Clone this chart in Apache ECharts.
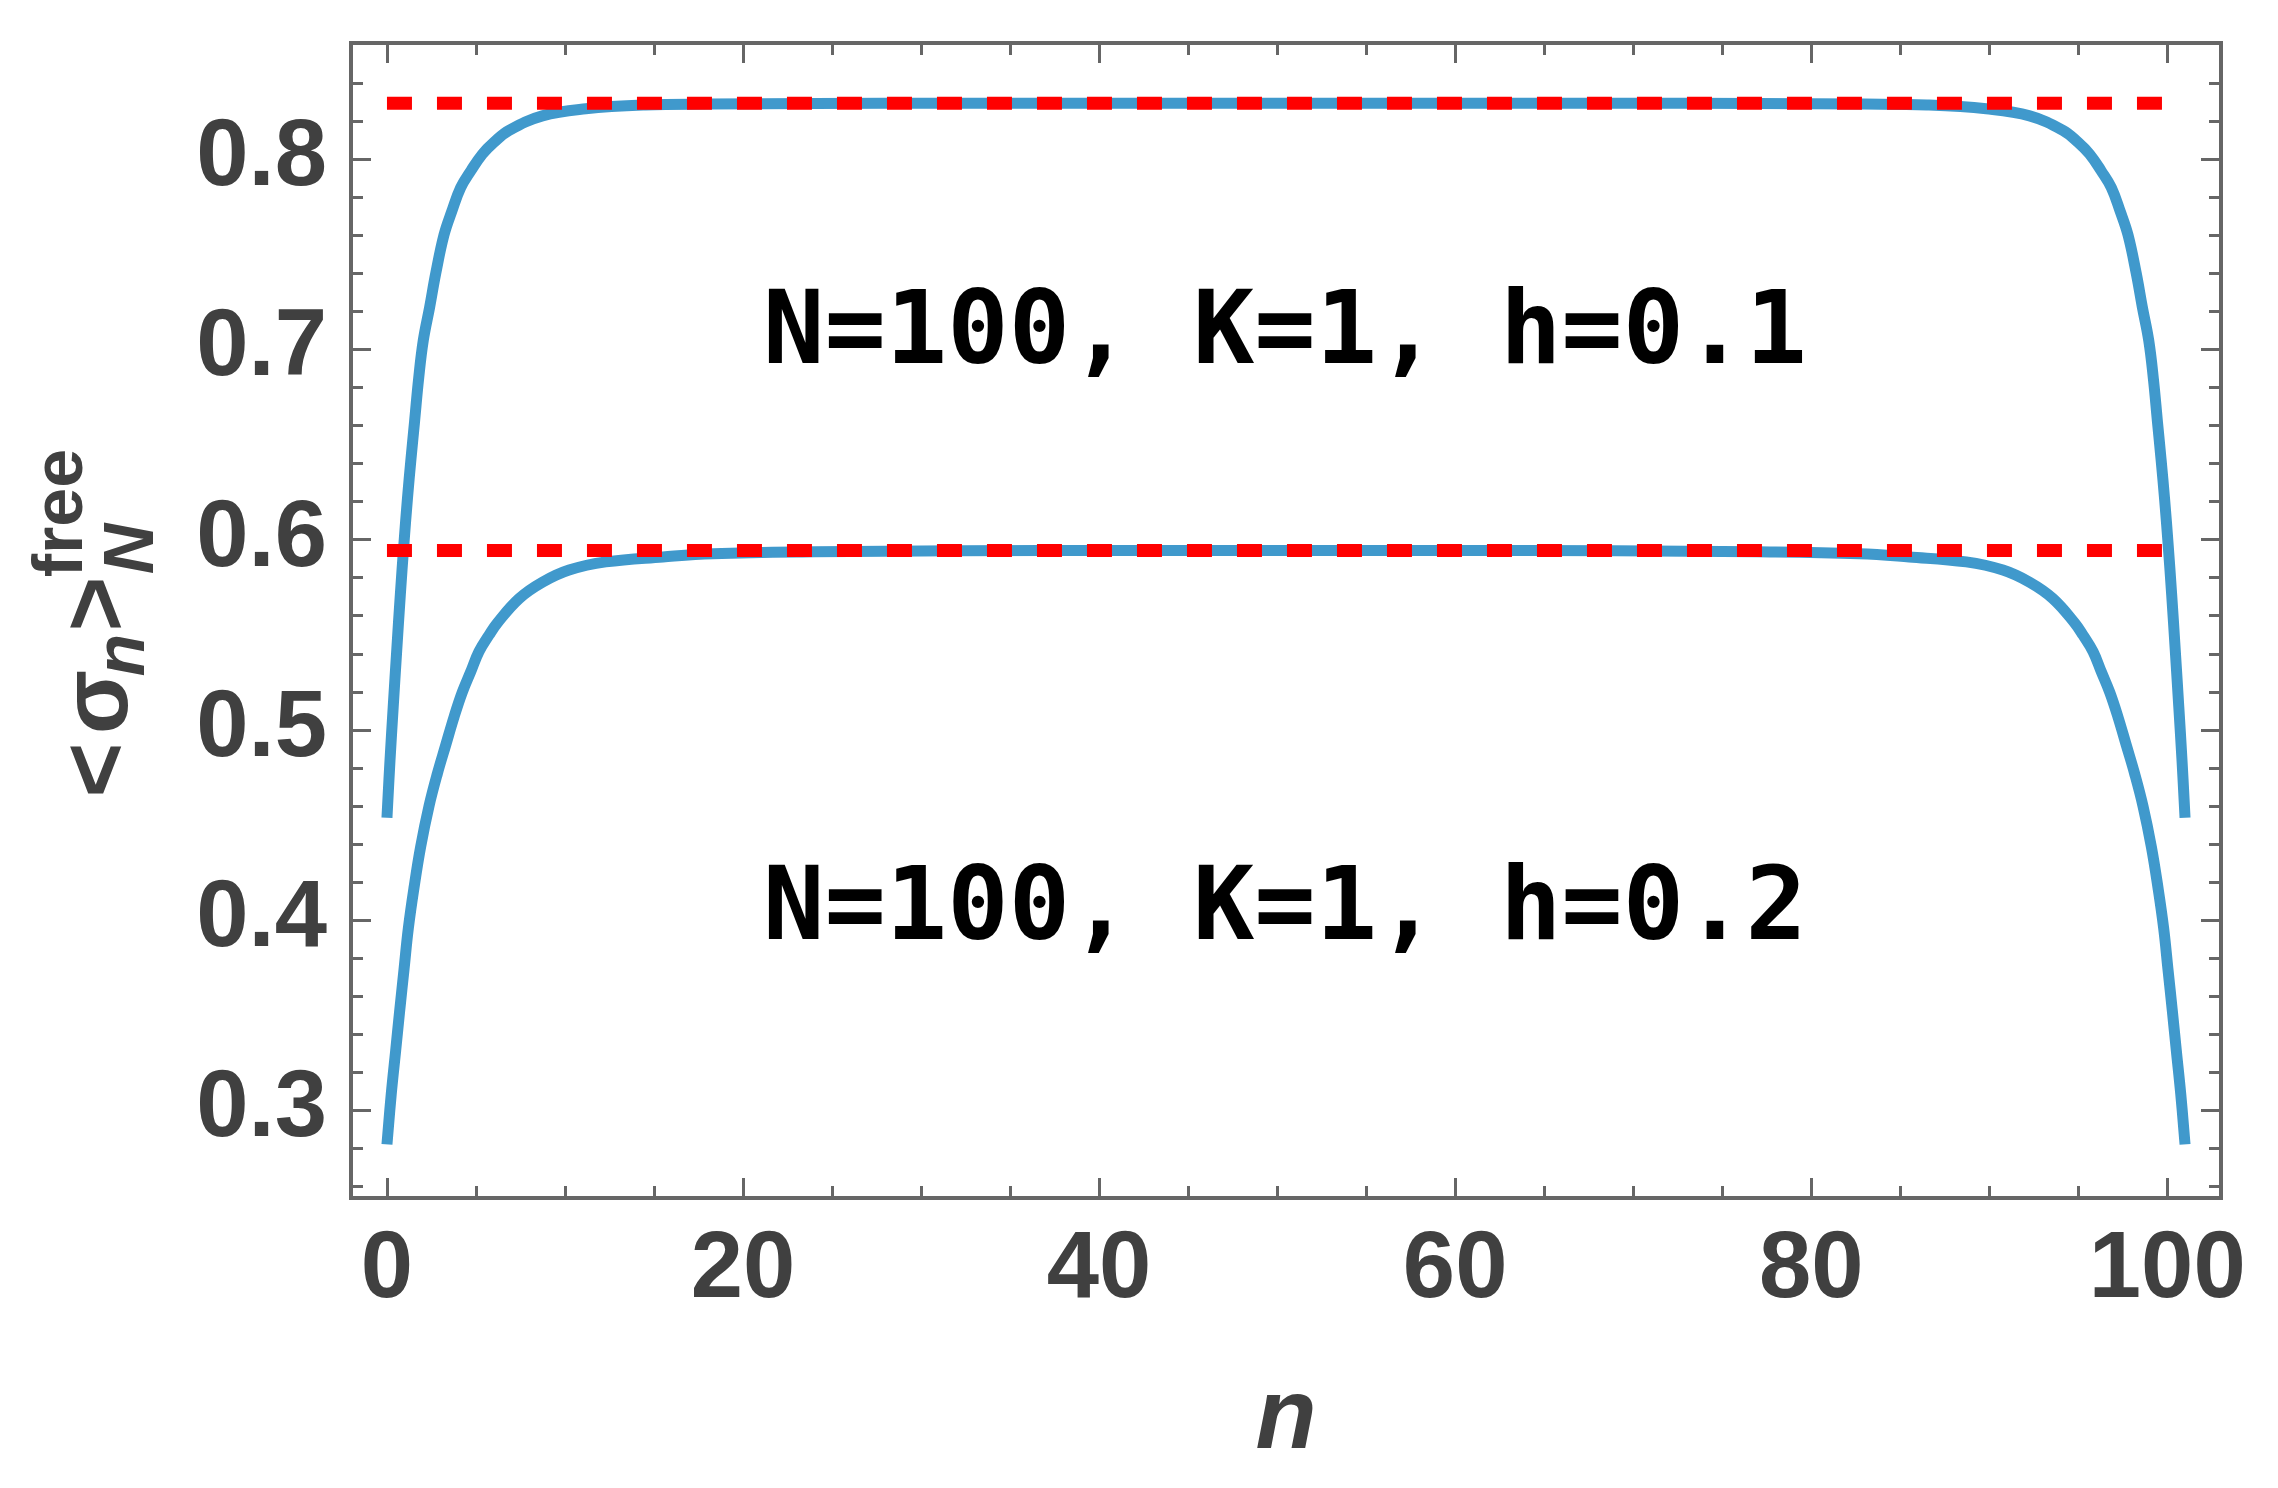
<!DOCTYPE html>
<html>
<head>
<meta charset="utf-8">
<script src="https://cdn.jsdelivr.net/npm/echarts@6/dist/echarts.min.js"></script>
<style>
  html, body { margin: 0; padding: 0; background: #fff; }
  #chart { width: 2278px; height: 1488px; }
</style>
</head>
<body>
<div id="chart"></div>
<script>
// h = 0.1 curve
var nUpper = [0, 0.17, 0.35, 0.55, 0.75, 0.95, 1.15, 1.35, 1.55, 1.78, 2.04, 2.4, 2.74, 3.2, 3.64, 4.14, 4.71, 5.36, 6.02, 6.86, 8.73, 11.17, 14.5, 18, 24, 32, 42, 50.5,
  59, 69, 77, 83, 86.5, 89.83, 92.27, 94.14, 94.98, 95.64, 96.29, 96.86, 97.36, 97.8, 98.26, 98.6, 98.96, 99.22, 99.45, 99.65, 99.85, 100.05, 100.25, 100.45, 100.65, 100.83, 101];
var sigmaUpper = [0.4538, 0.4839, 0.512, 0.542, 0.571, 0.5975, 0.6215, 0.6425, 0.662, 0.6847, 0.7047, 0.7223, 0.7399, 0.760, 0.7725, 0.785, 0.7938, 0.8026, 0.8089, 0.8151, 0.8227, 0.8264, 0.8284, 0.8289, 0.8292, 0.8293, 0.8293, 0.8293,
  0.8293, 0.8293, 0.8292, 0.8289, 0.8284, 0.8264, 0.8227, 0.8151, 0.8089, 0.8026, 0.7938, 0.785, 0.7725, 0.760, 0.7399, 0.7223, 0.7047, 0.6847, 0.662, 0.6425, 0.6215, 0.5975, 0.571, 0.542, 0.512, 0.4839, 0.4538];
// h = 0.2 curve
var nLower = [0, 0.24, 0.49, 0.72, 0.96, 1.2, 1.52, 1.89, 2.36, 2.83, 3.3, 3.77, 4.23, 4.7, 5.17, 5.73, 6.2, 7.42, 8.73, 10.23, 12.29, 15.5, 18.3, 24, 32, 42, 50.5,
  59, 69, 77, 82.7, 85.5, 88.71, 90.77, 92.27, 93.58, 94.8, 95.27, 95.83, 96.3, 96.77, 97.23, 97.7, 98.17, 98.64, 99.11, 99.48, 99.8, 100.04, 100.28, 100.51, 100.76, 101];
var sigmaLower = [0.2822, 0.3085, 0.3315, 0.3529, 0.3743, 0.3957, 0.4171, 0.4385, 0.4599, 0.477, 0.492, 0.5069, 0.5198, 0.5305, 0.5412, 0.5498, 0.5562, 0.569, 0.5776, 0.584, 0.5883, 0.5909, 0.5926, 0.5936, 0.5941, 0.5943, 0.5943,
  0.5943, 0.5941, 0.5936, 0.5926, 0.5909, 0.5883, 0.584, 0.5776, 0.569, 0.5562, 0.5498, 0.5412, 0.5305, 0.5198, 0.5069, 0.492, 0.477, 0.4599, 0.4385, 0.4171, 0.3957, 0.3743, 0.3529, 0.3315, 0.3085, 0.2822];
// bulk values (red dashed)
var limitValues = [0.8293, 0.5943];
var limitSpan = [0, 101];

var xMajorTicks = [0, 20, 40, 60, 80, 100];
var xMinorTicks = [5, 10, 15, 25, 30, 35, 45, 50, 55, 65, 70, 75, 85, 90, 95];
var yMajorTicks = [0.3, 0.4, 0.5, 0.6, 0.7, 0.8];
var yMinorTicks = [0.26, 0.28, 0.32, 0.34, 0.36, 0.38, 0.42, 0.44, 0.46, 0.48, 0.52, 0.54, 0.56, 0.58,
  0.62, 0.64, 0.66, 0.68, 0.72, 0.74, 0.76, 0.78, 0.82, 0.84];

var labels = ['N=100, K=1, h=0.1', 'N=100, K=1, h=0.2'];

var chart = echarts.init(document.getElementById('chart'));

var frame = '#666666';
var textColor = '#404040';
var sans = '"Liberation Sans", Arial, sans-serif';
var labelFont = { fontSize: 94, fontWeight: 'bold', fontFamily: sans, color: textColor };

function pairs(xs, ys) {
  return xs.map(function (x, i) { return [x, ys[i]]; });
}

function axis(pos, min, max, ticks, len, withLabels, margin) {
  return {
    type: 'value',
    position: pos,
    min: min,
    max: max,
    axisLine: { show: false, onZero: false },
    splitLine: { show: false },
    axisTick: {
      show: true, inside: true, length: len, customValues: ticks,
      lineStyle: { color: frame, width: 3 }
    },
    axisLabel: withLabels ? Object.assign({ show: true, customValues: ticks, margin: margin }, labelFont) : { show: false }
  };
}

var xMin = -2.02, xMax = 103.02;
var yMin = 0.254, yMax = 0.861;

var series = [
  { type: 'line', data: pairs(nUpper, sigmaUpper) },
  { type: 'line', data: pairs(nLower, sigmaLower) }
].map(function (s) {
  return Object.assign(s, {
    showSymbol: false, smooth: 0.4, z: 2,
    lineStyle: { color: '#4099cc', width: 11, cap: 'butt' }
  });
});

limitValues.forEach(function (v) {
  series.push({
    type: 'line', showSymbol: false, z: 3,
    data: [[limitSpan[0], v], [limitSpan[1], v]],
    lineStyle: { color: '#ff0000', width: 13, type: [25, 25], cap: 'butt' }
  });
});

function ytext(txt, x, y, size, style) {
  return {
    type: 'text', x: x, y: y, rotation: Math.PI / 2,
    style: {
      text: txt, fill: textColor, fontSize: size, fontWeight: 'bold', fontStyle: style || 'normal',
      fontFamily: sans, align: 'center', verticalAlign: 'middle'
    }
  };
}

function note(txt, y) {
  return {
    type: 'text', x: 1285, y: y,
    style: { text: txt, fill: '#000', fontSize: 102, fontWeight: 'bold',
      fontFamily: '"DejaVu Sans Mono", monospace', align: 'center', verticalAlign: 'middle' }
  };
}

chart.setOption({
  animation: false,
  backgroundColor: '#fff',
  grid: {
    left: 351, right: 57, top: 43, bottom: 290,
    show: true, borderColor: frame, borderWidth: 4, backgroundColor: 'transparent'
  },
  xAxis: [
    Object.assign(axis('bottom', xMin, xMax, xMajorTicks, 20, true, 26), {
      name: 'n', nameLocation: 'middle', nameGap: 172,
      nameTextStyle: { fontSize: 100, fontWeight: 'bold', fontStyle: 'italic', color: textColor, fontFamily: sans }
    }),
    axis('bottom', xMin, xMax, xMinorTicks, 12, false),
    axis('top', xMin, xMax, xMajorTicks, 20, false),
    axis('top', xMin, xMax, xMinorTicks, 12, false)
  ],
  yAxis: [
    axis('left', yMin, yMax, yMajorTicks, 20, true, 24),
    axis('left', yMin, yMax, yMinorTicks, 12, false),
    axis('right', yMin, yMax, yMajorTicks, 20, false),
    axis('right', yMin, yMax, yMinorTicks, 12, false)
  ],
  series: series,
  graphic: [
    ytext('<', 101, 770, 94),
    ytext('σ', 101, 702, 94),
    ytext('n', 125, 655, 70, 'italic'),
    ytext('>', 101, 604, 94),
    ytext('N', 134, 549, 70, 'italic'),
    ytext('free', 63, 513, 70),
    note(labels[0], 336),
    note(labels[1], 912)
  ]
});
</script>
</body>
</html>
